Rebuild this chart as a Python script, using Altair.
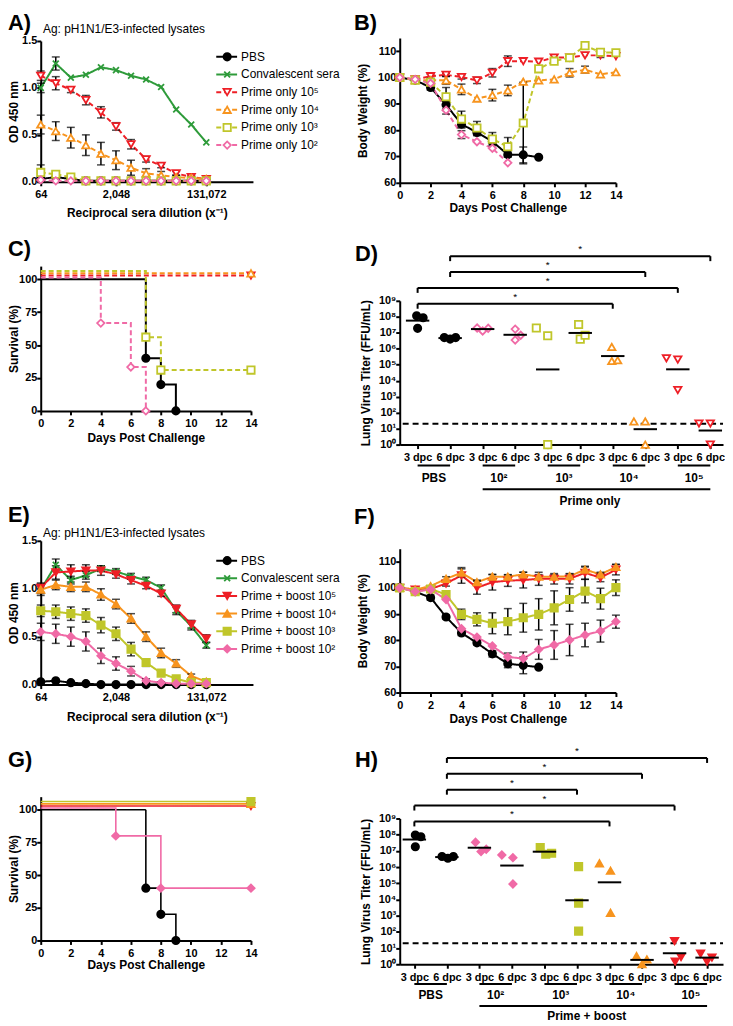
import altair as alt
import numpy as np
import pandas as pd

FONT = "Liberation Sans"

# ======================= DATA =======================
DILUTIONS = [64, 128, 256, 512, 1024, 2048, 4096, 8192, 16384, 32768, 65536, 131072]
ELISA_TICKS = [64, 2048, 131072]
ELISA_TITLE = "Ag: pH1N1/E3-infected lysates"

NAMES_PRIME = ["PBS", "Convalescent sera", "Prime only 10⁵", "Prime only 10⁴",
               "Prime only 10³", "Prime only 10²"]
NAMES_BOOST = ["PBS", "Convalescent sera", "Prime + boost 10⁵", "Prime + boost 10⁴",
               "Prime + boost 10³", "Prime + boost 10²"]

# A) ELISA, prime only
A_PBS = [0.03, 0.05, 0.03, 0.01, 0.01, 0.01, 0.01, 0.01, 0.01, 0.01, 0.01, 0.01]
A_CONV = [1.00, 1.26, 1.11, 1.14, 1.22, 1.19, 1.13, 1.09, 1.01, 0.77, 0.61, 0.42]
A_P5 = [1.13, 1.05, 0.98, 0.87, 0.74, 0.59, 0.40, 0.24, 0.17, 0.09, 0.05, 0.03]
A_P4 = [0.61, 0.54, 0.47, 0.39, 0.30, 0.23, 0.15, 0.09, 0.07, 0.05, 0.04, 0.03]
A_P3 = [0.10, 0.08, 0.05, 0.01, 0.01, 0.01, 0.01, 0.01, 0.01, 0.01, 0.01, 0.01]
A_P2 = [0.02, 0.01, 0.01, 0.01, 0.01, 0.01, 0.01, 0.01, 0.01, 0.01, 0.01, 0.01]
A_PBS_ERR = [0.02, 0.03, 0.01, 0, 0, 0, 0, 0, 0, 0, 0, 0]
A_CONV_ERR = [0.05, 0.07, 0, 0, 0, 0, 0, 0, 0, 0, 0, 0]
A_P5_ERR = [0.05, 0.07, 0.03, 0.05, 0.06, 0.04, 0.05, 0.03, 0.02, 0.02, 0.01, 0.01]
A_P4_ERR = [0.10, 0.10, 0.11, 0.11, 0.12, 0.10, 0.08, 0.05, 0.04, 0.02, 0.02, 0.01]
A_P3_ERR = [0.08, 0.03, 0.02, 0, 0, 0, 0, 0, 0, 0, 0, 0]
A_P2_ERR = [0, 0, 0, 0, 0, 0, 0, 0, 0, 0, 0, 0]

# E) ELISA, prime + boost
E_PBS = [0.03, 0.04, 0.02, 0.01, 0.0, 0.0, 0.0, 0.0, 0.0, 0.0, 0.0, 0.0]
E_CONV = [0.99, 1.25, 1.09, 1.14, 1.21, 1.18, 1.13, 1.09, 1.01, 0.77, 0.61, 0.41]
E_P5 = [1.01, 1.17, 1.18, 1.19, 1.19, 1.15, 1.09, 1.03, 0.95, 0.79, 0.63, 0.48]
E_P4 = [0.99, 1.04, 1.02, 1.02, 0.94, 0.84, 0.69, 0.50, 0.33, 0.22, 0.09, 0.03]
E_P3 = [0.77, 0.76, 0.74, 0.72, 0.62, 0.53, 0.37, 0.23, 0.12, 0.06, 0.02, 0.02]
E_P2 = [0.55, 0.53, 0.50, 0.45, 0.30, 0.22, 0.14, 0.04, 0.02, 0.01, 0.01, 0.01]
E_PBS_ERR = [0.01, 0.01, 0, 0, 0, 0, 0, 0, 0, 0, 0, 0]
E_CONV_ERR = [0.04, 0.06, 0.04, 0.04, 0.03, 0.03, 0.03, 0.03, 0.03, 0.04, 0.04, 0.03]
E_P5_ERR = [0.05, 0.07, 0.07, 0.06, 0.05, 0.04, 0.04, 0.03, 0.03, 0.04, 0.04, 0.04]
E_P4_ERR = [0.06, 0.05, 0.05, 0.05, 0.06, 0.05, 0.05, 0.05, 0.05, 0.04, 0.02, 0.01]
E_P3_ERR = [0.06, 0.07, 0.07, 0.07, 0.08, 0.07, 0.07, 0.04, 0.03, 0.02, 0.01, 0.01]
E_P2_ERR = [0.09, 0.10, 0.10, 0.10, 0.08, 0.07, 0.05, 0.02, 0.01, 0, 0, 0]

# B) body weight, prime only
B_PBS = [100.0, 99.0, 96.2, 89.6, 82.3, 79.1, 75.7, 70.7, 70.6, 69.7]
B_P5 = [100.0, 99.3, 100.5, 101.0, 100.2, 98.9, 101.8, 106.2, 106.2, 106.0, 107.6, 107.6, 108.4, 108.4, 108.1]
B_P4 = [100.0, 99.0, 99.0, 98.9, 95.5, 92.0, 93.3, 95.1, 98.4, 98.9, 99.3, 101.8, 103.0, 101.2, 102.0]
B_P3 = [100.0, 99.0, 98.2, 92.7, 84.2, 80.8, 76.6, 73.7, 82.7, 103.3, 106.2, 107.5, 112.1, 109.6, 109.4]
B_P2 = [100.0, 99.3, 97.8, 87.6, 78.3, 75.6, 73.1, 67.6]
B_PBS_ERR = [0, 0, 1.0, 1.5, 1.5, 1.2, 1.0, 1.0, 3.0, 0]
B_P5_ERR = [0, 0, 0.8, 0.6, 0.8, 1.2, 1.6, 2.0, 0, 0, 0, 1.0, 0, 0.8, 0]
B_P4_ERR = [0, 0, 0, 1.5, 2.0, 0, 2.2, 2.0, 0, 0, 0, 1.6, 1.3, 0, 0]
B_P3_ERR = [0, 0, 0, 3.5, 3.0, 2.5, 2.5, 3.5, 15.5, 0, 0, 0, 0, 1.0, 0]
B_P2_ERR = [0, 0, 0, 1.5, 1.5, 0, 0, 0]

# F) body weight, prime + boost
F_PBS = [100.1, 98.6, 96.3, 88.9, 82.8, 79.0, 74.8, 71.0, 70.4, 69.7]
F_P5 = [100.0, 99.4, 99.6, 101.7, 104.8, 100.1, 102.2, 102.8, 103.0, 103.5, 103.5, 103.5, 105.8, 103.9, 107.0]
F_P4 = [100.0, 99.4, 100.7, 103.5, 105.8, 102.2, 104.3, 104.3, 105.2, 104.3, 104.3, 104.5, 107.0, 105.2, 108.0]
F_P3 = [100.0, 98.6, 99.6, 97.5, 89.9, 88.0, 86.5, 87.1, 88.6, 89.9, 92.4, 95.6, 98.8, 95.9, 100.1]
F_P2 = [100.0, 98.6, 99.4, 95.6, 84.4, 81.2, 77.8, 73.6, 73.0, 76.5, 78.2, 80.1, 82.0, 83.5, 87.1]
F_PBS_ERR = [0, 0, 1.0, 0.8, 1.0, 0.8, 1.2, 1.5, 3.2, 0]
F_P5_ERR = [0, 1.0, 0, 1.0, 3.0, 2.5, 3.0, 2.2, 3.0, 2.5, 2.0, 2.0, 2.5, 1.5, 2.0]
F_P4_ERR = [0, 0, 0, 0.8, 1.5, 0.8, 0.8, 0.8, 0.8, 0.8, 0.8, 0.8, 1.0, 0.8, 1.0]
F_P3_ERR = [0, 0, 0, 1.0, 2.0, 2.5, 4.0, 5.0, 5.5, 6.0, 6.5, 4.5, 4.5, 4.0, 3.0]
F_P2_ERR = [0, 0, 0, 0, 0, 0, 0, 1.5, 2.5, 3.8, 5.5, 6.0, 4.5, 4.2, 2.5]

# C) survival, prime only (values as drawn, incl. offsets of overlapping lines)
C_PBS_DAY, C_PBS = [0, 7, 8, 9], [100, 40, 20, 0]
C_P5_DAY, C_P5 = [0, 14], [102.8, 102.8]
C_P4_DAY, C_P4 = [0, 14], [104.5, 104.5]
C_P3_DAY, C_P3 = [0, 7, 8, 14], [106.3, 56, 31, 31]
C_P2_DAY, C_P2 = [0, 4, 6, 7], [101.3, 66.7, 33.3, 0]
# G) survival, prime + boost
G_PBS_DAY, G_PBS = [0, 7, 8, 9], [100, 40, 20, 0]
G_P5_DAY, G_P5 = [0, 14], [102.8, 102.8]
G_P4_DAY, G_P4 = [0, 14], [104.5, 104.5]
G_P3_DAY, G_P3 = [0, 14], [106.3, 106.3]
G_P2_DAY, G_P2 = [0, 5, 8, 14], [101.3, 80, 40, 40]

# D / H) lung virus titers (FFU/mL), 3 mice per group, 10 groups (3 dpc, 6 dpc alternating)
GROUP_NAMES = ["PBS", "10²", "10³", "10⁴", "10⁵"]
LOD = 20
D_VALUES = [
    [1.15e8, 8.7e7, 1.9e7], [5.0e6, 4.0e6, 5.0e6],
    [2.0e7, 1.3e7, 1.9e7], [1.7e7, 7.0e6, 3.5e6],
    [2.0e7, 6.5e6, 1.0], [3.3e7, 4.0e6, 7.0e6],
    [1.3e6, 1.7e5, 1.9e5], [28, 28, 1.0],
    [2.5e5, 2.1e5, 2.6e3], [21, 21, 1.0],
]
D_JITTER = [
    [-0.03, 0.17, 0.0], [-0.18, 0.0, 0.17],
    [-0.17, 0.0, 0.17], [0.0, 0.17, 0.0],
    [-0.35, 0.0, 0.0], [-0.05, 0.0, 0.15],
    [-0.03, -0.03, 0.15], [-0.35, 0.0, 0.0],
    [-0.35, 0.0, 0.0], [-0.35, 0.0, 0.0],
]
H_VALUES = [
    [9.5e7, 7.4e7, 1.8e7], [4.5e6, 3.5e6, 4.5e6],
    [3.4e7, 9.0e6, 1.25e7], [5.6e6, 3.8e6, 9.0e4],
    [1.6e7, 6.2e6, 7.1e6], [1.07e6, 6.0e3, 1.1e2],
    [1.7e6, 5.9e5, 1.5e3], [3.2, 2.0, 1.0],
    [27, 2.8, 1.45], [4.5, 2.6, 1.45],
]
H_JITTER = [
    [0.03, 0.2, 0.03], [-0.15, 0.03, 0.2],
    [-0.12, 0.05, 0.21], [-0.31, 0.03, 0.03],
    [-0.13, 0.04, 0.22], [0.05, 0.05, 0.05],
    [-0.31, 0.03, 0.03], [-0.17, 0.15, 0.0],
    [0.0, 0.2, 0.02], [-0.2, 0.15, 0.0],
]
D_BRACKETS = [(1, 9), (1, 7), (0, 8), (0, 6)]
H_BRACKETS = [(1, 9), (1, 7), (1, 5), (0, 8), (0, 6)]

# ======================= STYLE =======================
COLORS = ["#000000", "#2e9b3a", "#ee1f26", "#f7941e", "#c0c62a", "#f06aa6"]
X_PATH = "M-0.8,-0.8L0.8,0.8M-0.8,0.8L0.8,-0.8"
SHAPES = ["circle", X_PATH, "triangle-down", "triangle-up", "square", "diamond"]
TITER_COLORS = ["#000000", "#f06aa6", "#c0c62a", "#f7941e", "#ee1f26"]
TITER_SHAPES = ["circle", "diamond", "square", "triangle-up", "triangle-down"]
SUPS = ["10⁰", "10¹", "10²", "10³", "10⁴", "10⁵", "10⁶", "10⁷", "10⁸", "10⁹"]
LEFT_LABEL_X = -33
LEFT_TITLE_X = -27
LABEL_SIZE = 22


def style(names, open_marks, dashed):
    fills = [COLORS[0]] + [("white" if open_marks else c) for c in COLORS[1:]]
    dashes = [[1, 0], [1, 0]] + ([[5, 3]] * 4 if dashed else [[1, 0]] * 4)
    return {
        "color": alt.Scale(domain=names, range=COLORS),
        "fill": alt.Scale(domain=names, range=fills),
        "shape": alt.Scale(domain=names, range=SHAPES),
        "dash": alt.Scale(domain=names, range=dashes),
    }


def enc_line(sc):
    return dict(color=alt.Color("s:N", scale=sc["color"], legend=None),
                strokeDash=alt.StrokeDash("s:N", scale=sc["dash"], legend=None))


def enc_pts(sc):
    return dict(shape=alt.Shape("s:N", scale=sc["shape"], legend=None),
                stroke=alt.Stroke("s:N", scale=sc["color"], legend=None),
                fill=alt.Fill("s:N", scale=sc["fill"], legend=None))


def text_layer(txt, x, y, size=12, weight="normal", align="center", baseline="middle"):
    return alt.Chart(pd.DataFrame({"t": [txt]})).mark_text(
        font=FONT, fontSize=size, fontWeight=weight, align=align, baseline=baseline, color="black"
    ).encode(x=alt.value(x), y=alt.value(y), text="t:N")


def panel_label(txt, x, y):
    return text_layer(txt, x, y, size=LABEL_SIZE, weight="bold", align="left", baseline="top")


def long_df(names, days_list, vals, errs):
    rows = []
    for n, ds, vs, es in zip(names, days_list, vals, errs):
        for d, v, e in zip(ds, vs, es):
            rows.append({"s": n, "x": d, "y": v, "lo": v - e, "hi": v + e, "e": e})
    return pd.DataFrame(rows)


def series_layers(df, xs, ys, xaxis, yaxis, sc, size=55):
    xa = alt.X("x:Q", scale=xs, axis=xaxis)
    ya = alt.Y("y:Q", scale=ys, axis=yaxis)
    lines = alt.Chart(df).mark_line(strokeWidth=2).encode(x=xa, y=ya, **enc_line(sc))
    ebars = alt.Chart(df[df.e > 0]).mark_errorbar(
        ticks=True, color="black", thickness=1.5, size=8
    ).encode(x=xa, y=alt.Y("lo:Q", scale=ys, axis=yaxis), y2="hi:Q")
    pts = alt.Chart(df).mark_point(size=size, strokeWidth=1.8, opacity=1).encode(x=xa, y=ya, **enc_pts(sc))
    return [lines, ebars, pts]


def elisa(names, vals, errs, sc, cell_h, plot_h, title_y, leg_y0, label, label_y, x_tpad):
    W = 214
    df = long_df(names, [DILUTIONS] * len(names), vals, errs)
    xs = alt.Scale(type="log", base=2, domain=[64, 64 * 2 ** 14.1], nice=False)
    ys = alt.Scale(domain=[0, 1.5], range=[cell_h, cell_h - plot_h], nice=False, zero=False)
    xaxis = alt.Axis(values=ELISA_TICKS, format=",", title="Reciprocal sera dilution (x⁻¹)", titlePadding=x_tpad)
    yaxis = alt.Axis(values=[0, 0.5, 1.0, 1.5], format=".1f", title="OD 450 nm",
                     titleX=LEFT_TITLE_X, titleBaseline="middle")
    layers = series_layers(df, xs, ys, xaxis, yaxis, sc)
    leg = pd.DataFrame({"s": names, "ly": [leg_y0 + 17.8 * i for i in range(len(names))]})
    ly = alt.Y("ly:Q", scale=None, axis=None)
    layers += [
        alt.Chart(leg).mark_rule(strokeWidth=2).encode(x=alt.value(177), x2=alt.value(198), y=ly, **enc_line(sc)),
        alt.Chart(leg).mark_point(size=55, strokeWidth=1.8, opacity=1).encode(x=alt.value(188), y=ly, **enc_pts(sc)),
        alt.Chart(leg).mark_text(font=FONT, fontSize=12, align="left", baseline="middle", color="black").encode(
            x=alt.value(202), y=ly, text="s:N"),
        text_layer(ELISA_TITLE, 84, title_y),
        panel_label(label, LEFT_LABEL_X, label_y),
    ]
    return alt.layer(*layers).properties(width=W, height=cell_h)


def weight(names, vals, errs, sc, cell_h, plot_h, label, label_y, x_tpad):
    df = long_df(names, [list(range(len(v))) for v in vals], vals, errs)
    xs = alt.Scale(domain=[0, 14], nice=False, zero=False)
    ys = alt.Scale(domain=[60, 115], range=[cell_h, cell_h - plot_h], nice=False, zero=False)
    xaxis = alt.Axis(values=list(range(0, 15, 2)), title="Days Post Challenge", titlePadding=x_tpad)
    yaxis = alt.Axis(values=list(range(60, 111, 10)), title="Body Weight (%)", titleX=-38, titleBaseline="middle")
    layers = series_layers(df, xs, ys, xaxis, yaxis, sc)
    layers.append(panel_label(label, -46, label_y))
    return alt.layer(*layers).properties(width=218, height=cell_h)


def survival(names, days_list, vals, sc, cell_h, plot_h, label, label_y, x_tpad, lw):
    df = long_df(names, days_list, vals, [[0] * len(v) for v in vals])
    xs = alt.Scale(domain=[0, 14], nice=False, zero=False)
    ys = alt.Scale(domain=[0, 110], range=[cell_h, cell_h - plot_h], nice=False, zero=False)
    xa = alt.X("x:Q", scale=xs, axis=alt.Axis(values=list(range(0, 15, 2)), title="Days Post Challenge",
                                              titlePadding=x_tpad))
    ya = alt.Y("y:Q", scale=ys, axis=alt.Axis(values=[0, 25, 50, 75, 100], title="Survival (%)",
                                              titleX=LEFT_TITLE_X, titleBaseline="middle"))
    lines = alt.Chart(df).mark_line(interpolate="step-after", strokeWidth=lw).encode(x=xa, y=ya, **enc_line(sc))
    pts = alt.Chart(df[df.x > 0]).mark_point(size=55, strokeWidth=1.8, opacity=1).encode(x=xa, y=ya, **enc_pts(sc))
    return alt.layer(lines, pts, panel_label(label, LEFT_LABEL_X, label_y)).properties(width=212, height=cell_h)


def titer(vals, jitter, open_marks, cell_h, plot_h, xdom, brackets, br_top, label, label_y, footer, ann):
    rows = []
    for k, (vs, js) in enumerate(zip(vals, jitter)):
        for v, j in zip(vs, js):
            rows.append({"g": GROUP_NAMES[k // 2], "cat": k, "x": k + j, "y": v})
    pts = pd.DataFrame(rows)
    gm = pts.groupby("cat")["y"].apply(lambda s: 10 ** np.mean(np.log10(s))).reset_index()
    gm["x1"] = gm["cat"] - 0.36
    gm["x2"] = gm["cat"] + 0.36
    W = 326
    xs = alt.Scale(domain=xdom, nice=False, zero=False)
    ys = alt.Scale(type="log", domain=[1, 1e9], range=[cell_h, cell_h - plot_h], nice=False)
    sup_expr = "[" + ",".join("'%s'" % s for s in SUPS) + "][round(log(datum.value)/LN10)]"
    xaxis = alt.Axis(values=list(range(10)), title=None,
                     labelExpr="datum.value % 2 == 0 ? '3 dpc' : '6 dpc'")
    yaxis = alt.Axis(values=[10 ** i for i in range(10)], labelExpr=sup_expr,
                     title="Lung  Virus Titer (FFU/mL)", titleX=-34, titleBaseline="middle")
    xf = lambda f: alt.X(f, scale=xs, axis=xaxis)
    yf = lambda f: alt.Y(f, scale=ys, axis=yaxis)
    fills = ["#000000"] + (["white"] * 4 if open_marks else TITER_COLORS[1:])
    p = alt.Chart(pts).mark_point(size=55, strokeWidth=1.8, opacity=1).encode(
        x=xf("x:Q"), y=yf("y:Q"),
        shape=alt.Shape("g:N", scale=alt.Scale(domain=GROUP_NAMES, range=TITER_SHAPES), legend=None),
        stroke=alt.Stroke("g:N", scale=alt.Scale(domain=GROUP_NAMES, range=TITER_COLORS), legend=None),
        fill=alt.Fill("g:N", scale=alt.Scale(domain=GROUP_NAMES, range=fills), legend=None))
    mean = alt.Chart(gm).mark_rule(strokeWidth=2, color="black").encode(x=xf("x1:Q"), x2="x2:Q", y=yf("y:Q"))
    lod = alt.Chart(pd.DataFrame({"lod": [LOD]})).mark_rule(strokeWidth=2, strokeDash=[6, 4], color="black").encode(
        x=alt.value(3), x2=alt.value(W), y=yf("lod:Q"))
    grp = pd.DataFrame({"x1": [2 * k for k in range(5)], "x2": [2 * k + 1 for k in range(5)],
                        "xm": [2 * k + 0.5 for k in range(5)], "t": GROUP_NAMES})
    under = alt.Chart(grp).mark_rule(strokeWidth=2, color="black").encode(
        x=xf("x1:Q"), x2="x2:Q", y=alt.value(ann[0]))
    glab = alt.Chart(grp).mark_text(font=FONT, fontSize=12, fontWeight="bold", color="black", baseline="middle").encode(
        x=xf("xm:Q"), y=alt.value(ann[1]), text="t:N")
    big = pd.DataFrame({"x1": [2], "x2": [9], "xm": [5.3], "t": [footer]})
    bigline = alt.Chart(big).mark_rule(strokeWidth=2, color="black").encode(
        x=xf("x1:Q"), x2="x2:Q", y=alt.value(ann[2]))
    bigtxt = alt.Chart(big).mark_text(font=FONT, fontSize=12, fontWeight="bold", color="black", baseline="middle").encode(
        x=xf("xm:Q"), y=alt.value(ann[3]), text="t:N")
    br = pd.DataFrame({"x1": [b[0] for b in brackets], "x2": [b[1] for b in brackets]})
    br["yp"] = br_top + 16 * np.arange(len(br))
    br["xm"] = (br.x1 + br.x2) / 2
    br["ys"] = br.yp - 4
    br["t"] = "*"
    ends = pd.DataFrame({"x": list(br.x1) + list(br.x2), "yp": list(br.yp) * 2})
    ends["yp2"] = ends.yp + 5
    br_h = alt.Chart(br).mark_rule(strokeWidth=2, color="black").encode(
        x=xf("x1:Q"), x2="x2:Q", y=alt.Y("yp:Q", scale=None, axis=None))
    br_v = alt.Chart(ends).mark_rule(strokeWidth=2, color="black").encode(
        x=xf("x:Q"), y=alt.Y("yp:Q", scale=None, axis=None), y2="yp2:Q")
    stars = alt.Chart(br).mark_text(font=FONT, fontSize=10, color="black", baseline="alphabetic").encode(
        x=xf("xm:Q"), y=alt.Y("ys:Q", scale=None, axis=None), text="t:N")
    return alt.layer(lod, p, mean, under, glab, bigline, bigtxt, br_h, br_v, stars,
                     panel_label(label, -45, label_y)).properties(width=W, height=cell_h)


# ======================= PANELS =======================
SC_P = style(NAMES_PRIME, open_marks=True, dashed=True)
SC_B = style(NAMES_BOOST, open_marks=False, dashed=False)
SURV_P = [NAMES_PRIME[i] for i in (0, 2, 3, 4, 5)]
SURV_B = [NAMES_BOOST[i] for i in (0, 2, 3, 4, 5)]

A = elisa(NAMES_PRIME, [A_PBS, A_CONV, A_P5, A_P4, A_P3, A_P2],
          [A_PBS_ERR, A_CONV_ERR, A_P5_ERR, A_P4_ERR, A_P3_ERR, A_P2_ERR],
          SC_P, cell_h=158, plot_h=142, title_y=4, leg_y0=32, label="A)", label_y=-12, x_tpad=8)
B = weight(SURV_P, [B_PBS, B_P5, B_P4, B_P3, B_P2], [B_PBS_ERR, B_P5_ERR, B_P4_ERR, B_P3_ERR, B_P2_ERR],
           SC_P, cell_h=159, plot_h=146, label="B)", label_y=-12, x_tpad=2)
C = survival(SURV_P, [C_PBS_DAY, C_P5_DAY, C_P4_DAY, C_P3_DAY, C_P2_DAY], [C_PBS, C_P5, C_P4, C_P3, C_P2],
             SC_P, cell_h=190, plot_h=146, label="C)", label_y=17, x_tpad=4, lw=2)
D = titer(D_VALUES, D_JITTER, True, cell_h=224, plot_h=145, xdom=[-0.55, 9.39], brackets=D_BRACKETS,
          br_top=34, label="D)", label_y=22, footer="Prime only", ann=[245, 258, 269, 281])
E = elisa(NAMES_BOOST, [E_PBS, E_CONV, E_P5, E_P4, E_P3, E_P2],
          [E_PBS_ERR, E_CONV_ERR, E_P5_ERR, E_P4_ERR, E_P3_ERR, E_P2_ERR],
          SC_B, cell_h=202, plot_h=145, title_y=49, leg_y0=77, label="E)", label_y=21, x_tpad=9)
F = weight(SURV_B, [F_PBS, F_P5, F_P4, F_P3, F_P2], [F_PBS_ERR, F_P5_ERR, F_P4_ERR, F_P3_ERR, F_P2_ERR],
           SC_B, cell_h=210, plot_h=145, label="F)", label_y=23, x_tpad=3)
G = survival(SURV_B, [G_PBS_DAY, G_P5_DAY, G_P4_DAY, G_P3_DAY, G_P2_DAY], [G_PBS, G_P5, G_P4, G_P3, G_P2],
             SC_B, cell_h=210, plot_h=145, label="G)", label_y=18, x_tpad=1, lw=1.6)
H = titer(H_VALUES, H_JITTER, False, cell_h=234, plot_h=147, xdom=[-0.45, 9.49], brackets=H_BRACKETS,
          br_top=26, label="H)", label_y=18, footer="Prime + boost", ann=[254, 265, 276, 286])

chart = alt.concat(
    A, B, C, D, E, F, G, H, columns=2, spacing={"row": 40, "column": 148}, bounds="flush"
).resolve_scale(
    color="independent", stroke="independent", fill="independent",
    shape="independent", strokeDash="independent"
).properties(
    padding={"left": 0, "top": 0, "right": 0, "bottom": 0}
).configure_view(stroke=None).configure_axis(
    domainColor="black", domainWidth=2, tickColor="black", tickWidth=2, tickSize=4,
    labelFont=FONT, labelFontSize=11, labelFontWeight="bold", labelColor="black",
    titleFont=FONT, titleFontSize=12, titleFontWeight="bold", titleColor="black",
    grid=False, labelFlush=False, labelOverlap=False,
).configure_axisX(labelPadding=3).configure_axisY(labelPadding=0)

chart.save("out.html", embed_options={"renderer": "svg", "actions": False})
